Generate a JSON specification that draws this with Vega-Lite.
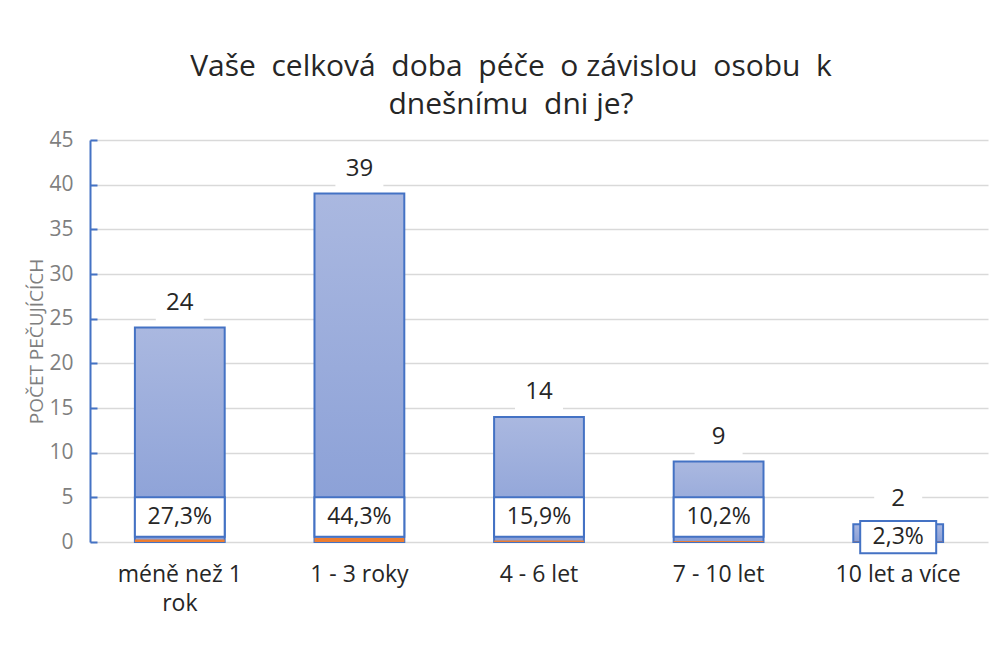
{
  "$schema": "https://vega.github.io/schema/vega-lite/v6.json",
  "autosize": "none",
  "width": 898,
  "height": 402,
  "padding": {"left": 90, "top": 140, "right": 5, "bottom": 120},
  "background": "white",
  "config": {
    "font": "Open Sans",
    "view": {"stroke": null}
  },
  "title": {
    "text": ["Vaše\u00a0 celková\u00a0 doba\u00a0 péče\u00a0 o závislou\u00a0 osobu\u00a0 k", "dnešnímu\u00a0 dni je?"],
    "fontSize": 30,
    "fontWeight": "normal",
    "font": "Open Sans",
    "color": "#262626",
    "anchor": "middle",
    "lineHeight": 38,
    "offset": 9,
    "dx": -28
  },
  "data": {
    "values": [
      {"cat": "méně než 1 rok", "count": 24, "ratio": 0.273, "pct": "27,3%"},
      {"cat": "1 - 3 roky", "count": 39, "ratio": 0.443, "pct": "44,3%"},
      {"cat": "4 - 6 let", "count": 14, "ratio": 0.159, "pct": "15,9%"},
      {"cat": "7 - 10 let", "count": 9, "ratio": 0.102, "pct": "10,2%"},
      {"cat": "10 let a více", "count": 2, "ratio": 0.023, "pct": "2,3%"}
    ]
  },
  "encoding": {
    "x": {
      "field": "cat",
      "type": "nominal",
      "sort": null,
      "scale": {"paddingInner": 0.5, "paddingOuter": 0.25},
      "axis": {
        "title": null,
        "labelAngle": 0,
        "labelFontSize": 23,
        "labelColor": "#262626",
        "labelPadding": 21,
        "labelLineHeight": 29,
        "domain": false,
        "ticks": false,
        "labelExpr": "datum.value == 'méně než 1 rok' ? ['méně než 1', 'rok'] : datum.value"
      }
    }
  },
  "layer": [
    {
      "mark": {
        "type": "bar",
        "stroke": "#4472c4",
        "strokeWidth": 2,
        "color": {
          "gradient": "linear",
          "x1": 0, "y1": 0, "x2": 0, "y2": 1,
          "stops": [
            {"offset": 0, "color": "#aab8e0"},
            {"offset": 1, "color": "#889ed6"}
          ]
        }
      },
      "encoding": {
        "y": {
          "field": "count",
          "type": "quantitative",
          "scale": {"domain": [0, 45]},
          "axis": {
            "values": [0, 5, 10, 15, 20, 25, 30, 35, 40, 45],
            "title": "POČET PEČUJÍCÍCH",
            "titleFontSize": 19,
            "titleFontWeight": "normal",
            "titleColor": "#7f7f7f",
            "titlePadding": 2,
            "labelFontSize": 21,
            "labelColor": "#7f7f7f",
            "labelPadding": 24,
            "domainColor": "#4472c4",
            "domainWidth": 2,
            "tickColor": "#4472c4",
            "tickWidth": 2,
            "tickSize": -7,
            "gridColor": "#d9d9d9",
            "gridWidth": 1.5
          }
        }
      }
    },
    {
      "mark": {"type": "bar", "color": "#ed7d31"},
      "encoding": {
        "y": {"field": "ratio", "type": "quantitative"}
      }
    },
    {
      "mark": {"type": "point", "shape": "M-1,-0.66H1V0.66H-1Z", "filled": true, "color": "white", "opacity": 1, "size": 2304, "yOffset": -22},
      "encoding": {
        "y": {"field": "count", "type": "quantitative"}
      }
    },
    {
      "mark": {"type": "text", "fontSize": 24, "color": "#262626", "baseline": "alphabetic", "dy": -18},
      "encoding": {
        "y": {"field": "count", "type": "quantitative"},
        "text": {"field": "count", "type": "quantitative"}
      }
    },
    {
      "transform": [{"filter": "datum.count > 2"}],
      "mark": {"type": "bar", "fill": "white", "stroke": "#4472c4", "strokeWidth": 2},
      "encoding": {
        "y": {"datum": 5},
        "y2": {"datum": 0.6}
      }
    },
    {
      "transform": [{"filter": "datum.count <= 2"}],
      "mark": {"type": "bar", "fill": "white", "stroke": "#4472c4", "strokeWidth": 2, "width": 76},
      "encoding": {
        "y": {"datum": 2.35},
        "y2": {"datum": -1.25}
      }
    },
    {
      "transform": [{"filter": "datum.count > 2"}],
      "mark": {"type": "text", "fontSize": 23, "color": "#262626"},
      "encoding": {
        "y": {"datum": 2.8},
        "text": {"field": "pct"}
      }
    },
    {
      "transform": [{"filter": "datum.count <= 2"}],
      "mark": {"type": "text", "fontSize": 23, "color": "#262626"},
      "encoding": {
        "y": {"datum": 0.55},
        "text": {"field": "pct"}
      }
    }
  ]
}
